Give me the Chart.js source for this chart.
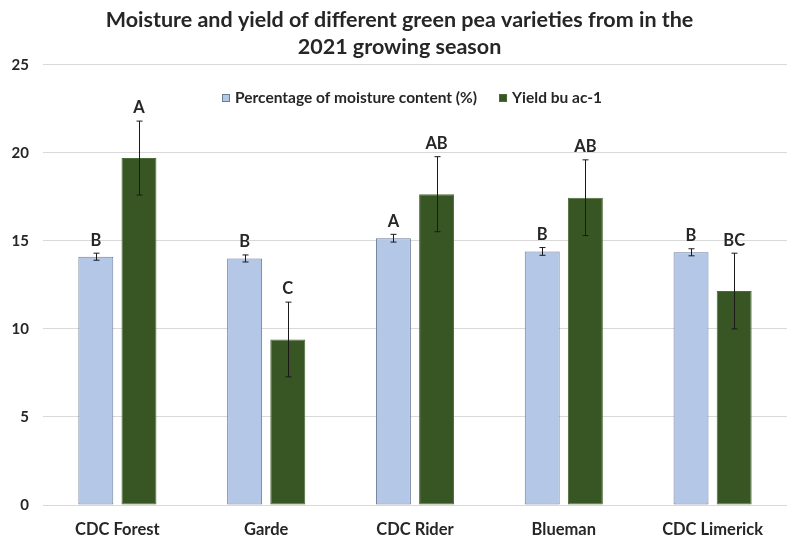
<!DOCTYPE html>
<html>
<head>
<meta charset="utf-8">
<script src="https://cdn.jsdelivr.net/npm/chart.js@4.4.0/dist/chart.umd.min.js"></script>
<style>
    html, body { margin: 0; padding: 0; background: #ffffff; }
    #wrap { width: 787px; height: 540px; }
</style>
</head>
<body>
<div id="wrap"><canvas id="peaChart"></canvas></div>
<script>
// Chart data
const categories = ['CDC Forest', 'Garde', 'CDC Rider', 'Blueman', 'CDC Limerick'];
const moisture = [14.1, 14.0, 15.15, 14.4, 14.35];
const moistureErr = [0.2, 0.2, 0.22, 0.22, 0.2];
const yieldBu = [19.7, 9.4, 17.65, 17.45, 12.15];
const yieldErr = [2.1, 2.12, 2.13, 2.15, 2.15];
const moistureLetters = ['B', 'B', 'A', 'B', 'B'];
const yieldLetters = ['A', 'C', 'AB', 'AB', 'BC'];
const yTicks = [0, 5, 10, 15, 20, 25];

const FONT = 'Lato';
const TEXT = '#262626';

// error bars + significance letters
const errorBarPlugin = {
    id: 'errorBars',
    afterDatasetsDraw(chart) {
        const ctx = chart.ctx;
        const yScale = chart.scales.y;
        const errs = [moistureErr, yieldErr];
        const letters = [moistureLetters, yieldLetters];
        ctx.save();
        chart.data.datasets.forEach(function(ds, di) {
            const meta = chart.getDatasetMeta(di);
            meta.data.forEach(function(bar, i) {
                const v = ds.data[i];
                const x = Math.round(bar.x) + 0.5;
                const top = yScale.getPixelForValue(v + errs[di][i]);
                const bot = yScale.getPixelForValue(v - errs[di][i]);
                ctx.strokeStyle = '#1a1a1a';
                ctx.lineWidth = 1;
                ctx.beginPath();
                ctx.moveTo(x, top);
                ctx.lineTo(x, bot);
                ctx.moveTo(x - 3, top);
                ctx.lineTo(x + 3, top);
                ctx.moveTo(x - 3, bot);
                ctx.lineTo(x + 3, bot);
                ctx.stroke();

                ctx.fillStyle = TEXT;
                ctx.font = 'bold 16.5px ' + FONT;
                ctx.textAlign = 'center';
                ctx.textBaseline = 'middle';
                ctx.fillText(letters[di][i], bar.x, top - 13);
            });
        });
        ctx.restore();
    }
};

// legend drawn inside the plot area
const innerLegendPlugin = {
    id: 'innerLegend',
    afterDraw(chart) {
        const ctx = chart.ctx;
        const area = chart.chartArea;
        const y = 98;
        const box = 8;
        ctx.save();
        ctx.font = 'bold 15.5px ' + FONT;
        const items = chart.data.datasets.map(function(ds) {
            return { text: ds.label, w: ctx.measureText(ds.label).width, fill: ds.backgroundColor, stroke: ds.borderColor };
        });
        const gap = 22;
        let total = 0;
        items.forEach(function(it, i) {
            total += box + 5 + it.w + (i < items.length - 1 ? gap : 0);
        });
        let x = Math.round((area.left + area.right) / 2 - total / 2 - 3);
        items.forEach(function(it) {
            ctx.fillStyle = it.fill;
            ctx.fillRect(x, y - box / 2, box, box);
            ctx.strokeStyle = it.stroke;
            ctx.lineWidth = 1;
            ctx.strokeRect(x + 0.5, y - box / 2 + 0.5, box - 1, box - 1);
            ctx.fillStyle = TEXT;
            ctx.textAlign = 'left';
            ctx.textBaseline = 'middle';
            ctx.fillText(it.text, x + box + 5, y);
            x += box + 5 + it.w + gap;
        });
        ctx.restore();
    }
};

const ctx = document.getElementById('peaChart').getContext('2d');
const peaChart = new Chart(ctx, {
    type: 'bar',
    data: {
        labels: categories,
        datasets: [{
            label: 'Percentage of moisture content (%)',
            data: moisture,
            backgroundColor: '#b4c7e7',
            borderColor: '#6c7d98',
            borderWidth: 1,
            borderSkipped: false,
            categoryPercentage: 0.58,
            barPercentage: 0.81
        }, {
            label: 'Yield bu ac-1',
            data: yieldBu,
            backgroundColor: '#375623',
            borderColor: '#4d6b38',
            borderWidth: 1,
            borderSkipped: false,
            categoryPercentage: 0.58,
            barPercentage: 0.81
        }]
    },
    options: {
        responsive: true,
        maintainAspectRatio: false,
        animation: false,
        layout: {
            padding: { left: 12, right: 0, top: 0, bottom: 0 }
        },
        scales: {
            y: {
                min: 0,
                max: 25,
                afterBuildTicks: function(scale) {
                    scale.ticks = yTicks.map(function(v) { return { value: v }; });
                },
                afterFit: function(scale) {
                    scale.width = 31;
                },
                grid: { color: '#d9d9d9', drawTicks: false },
                border: { display: false },
                ticks: {
                    padding: 14,
                    color: TEXT,
                    font: { family: FONT, size: 15, weight: 'bold' }
                }
            },
            x: {
                afterFit: function(scale) {
                    scale.height = 35;
                },
                grid: { display: false, drawTicks: false },
                border: { display: false },
                ticks: {
                    padding: 15,
                    color: TEXT,
                    font: { family: FONT, size: 16.5, weight: 'bold' }
                }
            }
        },
        plugins: {
            legend: { display: false },
            tooltip: { enabled: false },
            title: {
                display: true,
                text: ['Moisture and yield of different green pea varieties from in the', '2021 growing season'],
                color: TEXT,
                font: { family: FONT, size: 21.5, weight: 'bold', lineHeight: 1.25 },
                padding: { top: 7, bottom: 4 }
            }
        }
    },
    plugins: [errorBarPlugin, innerLegendPlugin]
});
</script>
</body>
</html>
